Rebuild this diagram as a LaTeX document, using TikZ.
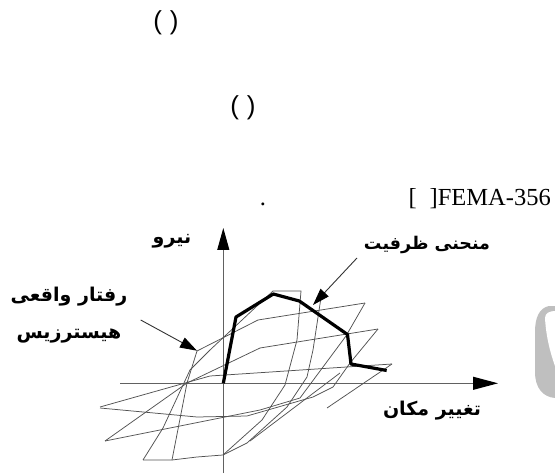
\documentclass[tikz,border=0pt]{standalone}
\usepackage{fontspec}
\setmainfont{Liberation Serif}
\newfontfamily\fa[Script=Arabic]{DejaVu Sans}
\newfontfamily\lsans{Liberation Sans}
\TeXXeTstate=1
\usetikzlibrary{arrows.meta}
\begin{document}
\begin{tikzpicture}[x=1pt,y=-1pt,
  hyst/.style={draw=black!68, line width=0.75pt, line join=round},
  axisline/.style={draw=black!62, line width=1pt},
  captip/.style={-{Triangle[length=22pt,width=12pt,color=black]}},
  capline/.style={draw=black, line width=3.2pt, line join=round},
  ptr/.style={draw=black!80, line width=0.9pt, -{Triangle[length=17pt,width=11pt,color=black]}},
  falabel/.style={font=\fa\bfseries\fontsize{19}{19}\selectfont, inner sep=0pt},
  toptext/.style={font=\lsans\fontsize{26}{26}\selectfont, inner sep=0pt},
  reftext/.style={font=\fontsize{24.5}{24.5}\selectfont, inner sep=0pt}
]
\useasboundingbox (0,0) rectangle (555,476);

% top texts
\node[toptext] (p1) at (166,23) {(\hspace{8pt})};
\node[toptext] (p2) at (243,108) {(\hspace{8pt})};
\node[reftext, anchor=base] (dot) at (263,206) {.};
\node[reftext, anchor=base east] (fema) at (551,206) {[\hspace{13pt}]FEMA-356};

% watermark fragment
\fill[black!25] (555,306) -- (549,306) .. controls (539,308) and (535,318) .. (535,332)
  -- (535,372) .. controls (535,388) and (543,397) .. (555,398) -- cycle;
\fill[white] (545,318) .. controls (546,336) and (550,352) .. (555,366)
  -- (555,311) .. controls (550,311) and (545,313) .. (545,318) -- cycle;

% axes
\coordinate (vb) at (223.3,473);
\coordinate (vt) at (223.3,228);
\coordinate (hl) at (120,383.3);
\coordinate (hr) at (498,383.3);
\draw[axisline, captip] (vb) -- (vt);
\draw[axisline, -{Triangle[length=25pt,width=13pt,color=black]}] (hl) -- (hr);

% hysteresis corners
\coordinate (E) at (100,407);
\coordinate (F) at (105,441);
\coordinate (G) at (143,460);
\coordinate (H) at (172,460);
\coordinate (T) at (197,351);
\coordinate (A) at (273,291);
\coordinate (A2) at (301,291);
\coordinate (B) at (365,303);
\coordinate (C) at (378,329);
\coordinate (D) at (392,364);

\draw[hyst] (E) -- (210,376) -- (D);
\draw[hyst] (D) -- (327,408);
\draw[hyst] (C) -- (350,363) -- (333,387) -- (313,397) -- (247,416) -- (197,417) -- (100,408);
\draw[hyst] (F) -- (187,383) -- (260,348) -- (C);
\draw[hyst] (F) -- (260,410) -- (300,398) -- (346,336) -- (B);
\draw[hyst] (T) -- (258,320) -- (B);
\draw[hyst] (T) -- (187,383) -- (H);
\draw[hyst] (G) -- (H) -- (197,457) -- (223,455) -- (247,443) -- (287,407) -- (307,377) -- (313,350) -- (322,291);
\draw[hyst] (250,441) -- (340,373);
\draw[hyst] (G) -- (163,428) -- (190,370) -- (210,350) -- (A);
\draw[hyst] (A) -- (A2) -- (297,340) -- (285,385) -- (262,420) -- (223,455);

% capacity curve
\coordinate (k0) at (223.3,383.3);
\coordinate (k1) at (236,317);
\coordinate (k2) at (273.3,294);
\coordinate (k3) at (299.3,301);
\coordinate (k4) at (347.5,334.5);
\coordinate (k5) at (351,364);
\coordinate (k6) at (386.7,370.5);
\draw[capline] (k0) -- (k1) -- (k2) -- (k3) -- (k4) -- (k5) -- (k6);

% labels
\node[falabel] (force) at (172,241) {\beginR نیرو\endR};
\node[falabel, font=\fa\bfseries\fontsize{17.5}{17.5}\selectfont] (capacity) at (427,245) {\beginR منحنی ظرفیت\endR};
\node[falabel] (real) at (69,297) {\beginR رفتار واقعی\endR};
\node[falabel] (hys) at (69,336) {\beginR هیسترزیس\endR};
\node[falabel] (disp) at (432,411) {\beginR تغییر مکان\endR};

% pointers
\coordinate (capfrom) at (357,258);
\coordinate (capto) at (313,305);
\coordinate (hysfrom) at (140.7,320);
\coordinate (hysto) at (197,350.7);
\draw[ptr] (capfrom) -- (capto);
\draw[ptr] (hysfrom) -- (hysto);
\end{tikzpicture}
\end{document}
